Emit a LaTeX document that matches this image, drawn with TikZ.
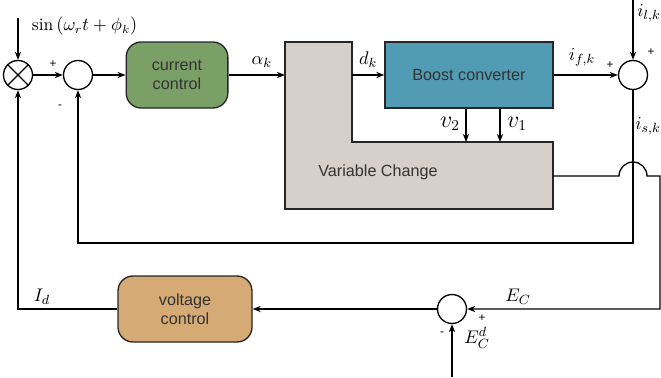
\documentclass[tikz,border=0pt]{standalone}
\usepackage{amsmath}
\usepackage{fontspec}
\setsansfont{Liberation Sans}
\usetikzlibrary{positioning, arrows.meta, calc}

\definecolor{ccgreen}{RGB}{122,160,104}
\definecolor{bcteal}{RGB}{82,155,180}
\definecolor{vcgray}{RGB}{214,207,202}
\definecolor{vctan}{RGB}{214,170,116}

\begin{document}
\begin{tikzpicture}[
  x=0.6pt, y=0.6pt,
  >={Stealth[length=1.7mm, width=1.3mm]},
  every node/.style={font=\small}
]
\tikzset{
  box/.style   ={draw=black!85, line width=0.8pt, align=center,
                 font=\sffamily\fontsize{9.7}{11.5}\selectfont,
                 text=black!80, minimum height=39.6pt},
  ctrl/.style  ={box, rounded corners=9pt, minimum width=61pt},
  sumc/.style  ={circle, draw=black, line width=0.8pt, fill=white,
                 minimum size=17.4pt, inner sep=0pt},
  arr/.style   ={->, line width=0.8pt},
  ln/.style    ={line width=0.8pt},
  sgn/.style   ={font=\sffamily\scriptsize, inner sep=0pt},
  lab/.style   ={font=\fontsize{11}{13}\selectfont, inner sep=1pt},
  vlab/.style  ={font=\fontsize{13.5}{15}\selectfont, inner sep=1pt}
}
\useasboundingbox (0,0) rectangle (661,377);

%% ----- Top row: multiplier, sum, current control -----
\node[sumc] (mult) at (18,302) {};
\draw[ln] (mult.north west) -- (mult.south east)
          (mult.north east) -- (mult.south west);
\coordinate (sinin) at (18,359);
\draw[arr] (sinin) -- (mult.north);
\node[font=\fontsize{10.5}{12}\selectfont, anchor=west] (lsin) at (26,351)
  {$\sin\left(\omega_r t+\phi_k\right)$};

\node[sumc] (sum1) at (78,302) {};
\draw[arr] (mult) -- (sum1);
\node[sgn] (p1) at (53,313) {+};
\node[sgn] (m1) at (60,270) {-};

\node[ctrl, fill=ccgreen] (cc) at (177,302) {current\\control};
\draw[arr] (sum1) -- (cc);

%% ----- Variable Change (L-shaped block) -----
\draw[ln, draw=black!85, fill=vcgray]
  (285,335) -- (352,335) -- (352,235) -- (553,235) -- (553,168)
  -- (285,168) -- cycle;
\node[font=\sffamily\fontsize{9.7}{11.5}\selectfont, text=black!80]
  (varch) at (378,205) {Variable Change};
\coordinate (vcin)  at (285,302);
\coordinate (vcout) at (352,302);
\coordinate (vcr)   at (553,201);

\draw[arr] (cc) -- (vcin) node[lab, midway, above=3pt, xshift=3pt] {$\alpha_k$};

%% ----- Boost converter -----
\node[box, fill=bcteal, minimum width=100.8pt] (boost) at (469,302)
  {Boost converter};
\draw[arr] (vcout) -- (boost) node[lab, midway, above=3pt] {$d_k$};

\coordinate (v2) at (466,235);
\coordinate (v1) at (500,235);
\draw[arr] (v2 |- boost.south) -- (v2);
\draw[arr] (v1 |- boost.south) -- (v1);
\node[vlab] (lv2) at (450,253) {$v_2$};
\node[vlab] (lv1) at (517,253) {$v_1$};

%% ----- Output sum -----
\node[sumc] (sumf) at (633,302) {};
\draw[arr] (boost) -- (sumf);
\node[lab] (lif) at (582,320) {$i_{f,k}$};
\node[sgn] (p2) at (610,312) {+};
\coordinate (ilin) at (633,377);
\draw[arr] (ilin) -- (sumf.north);
\node[lab] (lil) at (649,364) {$i_{l,k}$};
\node[sgn] (p3) at (651,325) {+};

%% ----- Current feedback -----
\coordinate (fb) at (633,134);
\draw[arr] (sumf.south) -- (fb) -| (sum1.south);
\node[lab] (lis) at (648,251) {$i_{s,k}$};

%% ----- E_C path with hop over the feedback line -----
\coordinate (hop) at (633,201);
\coordinate (rc)  at (660,201);
\node[sumc] (sume) at (452,68) {};
\draw[arr] (vcr) -- ($(hop)+(-14,0)$)
  arc[start angle=180, end angle=0, radius=14]
  -- (rc) |- (sume.east);
\node[lab] (lec) at (518,80) {$E_C$};
\node[sgn] (p4) at (482,59) {+};
\node[sgn] (m4) at (442,43) {-};
\coordinate (ecd) at (452,0);
\draw[arr] (ecd) -- (sume.south);
\node[lab, inner sep=0pt, anchor=north] (lecd) at (477,50) {$E_C^d$};

%% ----- Voltage control -----
\node[ctrl, fill=vctan, minimum width=80.4pt] (vc) at (185,68)
  {voltage\\control};
\draw[arr] (sume) -- (vc);
\draw[arr] (vc.west) -| (mult.south);
\node[lab] (lid) at (42,80) {$I_d$};

\end{tikzpicture}
\end{document}
